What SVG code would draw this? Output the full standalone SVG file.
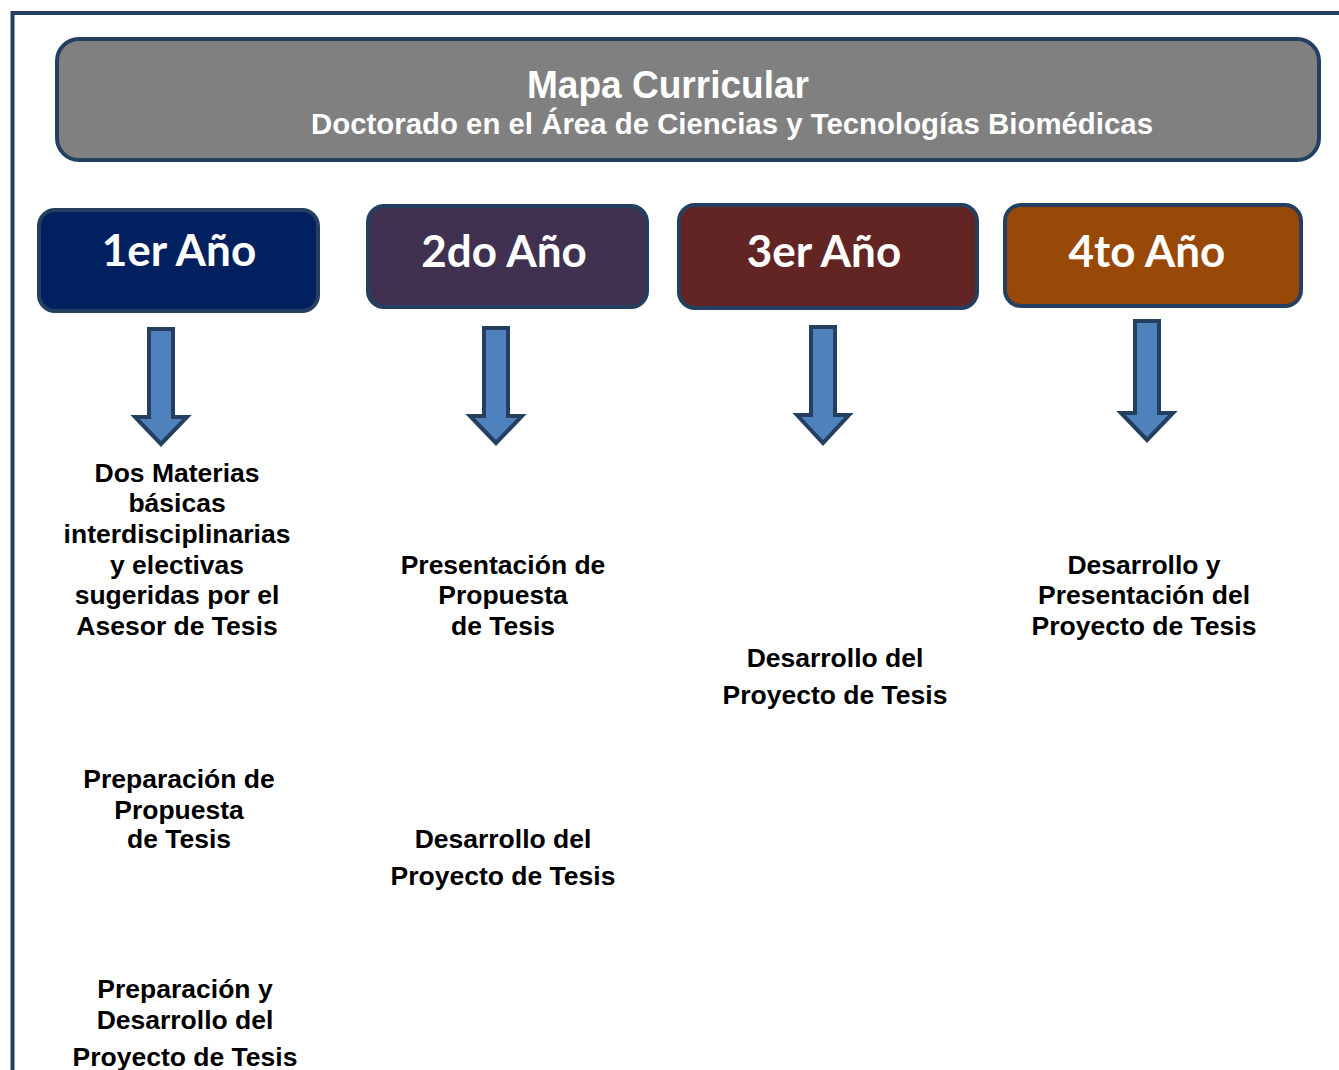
<svg xmlns="http://www.w3.org/2000/svg" width="1339" height="1070" viewBox="0 0 1339 1070">
<style>
.frame{fill:none;stroke:#243f60;stroke-width:4}
.hdr{fill:#808080;stroke:#243f60;stroke-width:4}
.yr{stroke:#243f60;stroke-width:4}
.yt{font-family:Lato,"Open Sans",sans-serif;font-weight:bold;font-size:44px;fill:#ffffff;text-anchor:middle}
.ht{font-family:"Liberation Sans",Arial,sans-serif;font-weight:bold;fill:#ffffff;text-anchor:middle}
.arr{fill:#4f81bd;stroke:#243f60;stroke-width:4;stroke-linejoin:miter}
.bt{font-family:"Liberation Sans",Arial,sans-serif;font-weight:bold;font-size:26.5px;fill:#000000;text-anchor:middle}
</style>
<rect width="1339" height="1070" fill="#ffffff"/>
<path class="frame" d="M12.5,1070 V13 H1339"/>
<g id="header">
<rect class="hdr" x="57" y="39" width="1262" height="121" rx="22"/>
<text class="ht" x="668" y="98" font-size="38" textLength="282" lengthAdjust="spacingAndGlyphs">Mapa Curricular</text>
<text class="ht" x="732" y="134" font-size="29" textLength="842" lengthAdjust="spacingAndGlyphs">Doctorado en el Área de Ciencias y Tecnologías Biomédicas</text>
</g>
<g id="year1">
<rect class="yr" x="39" y="210" width="279" height="101" rx="16" fill="#002060"/>
<text class="yt" x="179" y="266">1er Año</text>
</g>
<g id="year2">
<rect class="yr" x="368" y="206" width="279" height="101" rx="16" fill="#403151"/>
<text class="yt" x="504" y="267">2do Año</text>
</g>
<g id="year3">
<rect class="yr" x="679" y="205" width="298" height="103" rx="16" fill="#632523"/>
<text class="yt" x="824" y="267">3er Año</text>
</g>
<g id="year4">
<rect class="yr" x="1005" y="205" width="296" height="101" rx="16" fill="#984807"/>
<text class="yt" x="1147" y="267">4to Año</text>
</g>
<g id="connectors">
<path class="arr" d="M149,329 H173 V417 H187 L161,444 L135,417 H149 Z"/>
<path class="arr" d="M484,328 H508 V416 H522 L496,443 L470,416 H484 Z"/>
<path class="arr" d="M811,327 H835 V415 H849 L823,443 L797,415 H811 Z"/>
<path class="arr" d="M1135,321 H1159 V413 H1173 L1147,440 L1121,413 H1135 Z"/>
</g>
<g id="y1-materias">
<text class="bt" x="177" y="482">Dos Materias</text>
<text class="bt" x="177" y="512">básicas</text>
<text class="bt" x="177" y="543">interdisciplinarias</text>
<text class="bt" x="177" y="574">y electivas</text>
<text class="bt" x="177" y="604">sugeridas por el</text>
<text class="bt" x="177" y="635">Asesor de Tesis</text>
</g>
<g id="y1-preparacion">
<text class="bt" x="179" y="788">Preparación de</text>
<text class="bt" x="179" y="819">Propuesta</text>
<text class="bt" x="179" y="848">de Tesis</text>
</g>
<g id="y1-desarrollo">
<text class="bt" x="185" y="998">Preparación y</text>
<text class="bt" x="185" y="1029">Desarrollo del</text>
<text class="bt" x="185" y="1066">Proyecto de Tesis</text>
</g>
<g id="y2-presentacion">
<text class="bt" x="503" y="574">Presentación de</text>
<text class="bt" x="503" y="604">Propuesta</text>
<text class="bt" x="503" y="635">de Tesis</text>
</g>
<g id="y2-desarrollo">
<text class="bt" x="503" y="848">Desarrollo del</text>
<text class="bt" x="503" y="885">Proyecto de Tesis</text>
</g>
<g id="y3-desarrollo">
<text class="bt" x="835" y="667">Desarrollo del</text>
<text class="bt" x="835" y="704">Proyecto de Tesis</text>
</g>
<g id="y4-desarrollo">
<text class="bt" x="1144" y="574">Desarrollo y</text>
<text class="bt" x="1144" y="604">Presentación del</text>
<text class="bt" x="1144" y="635">Proyecto de Tesis</text>
</g>
</svg>
